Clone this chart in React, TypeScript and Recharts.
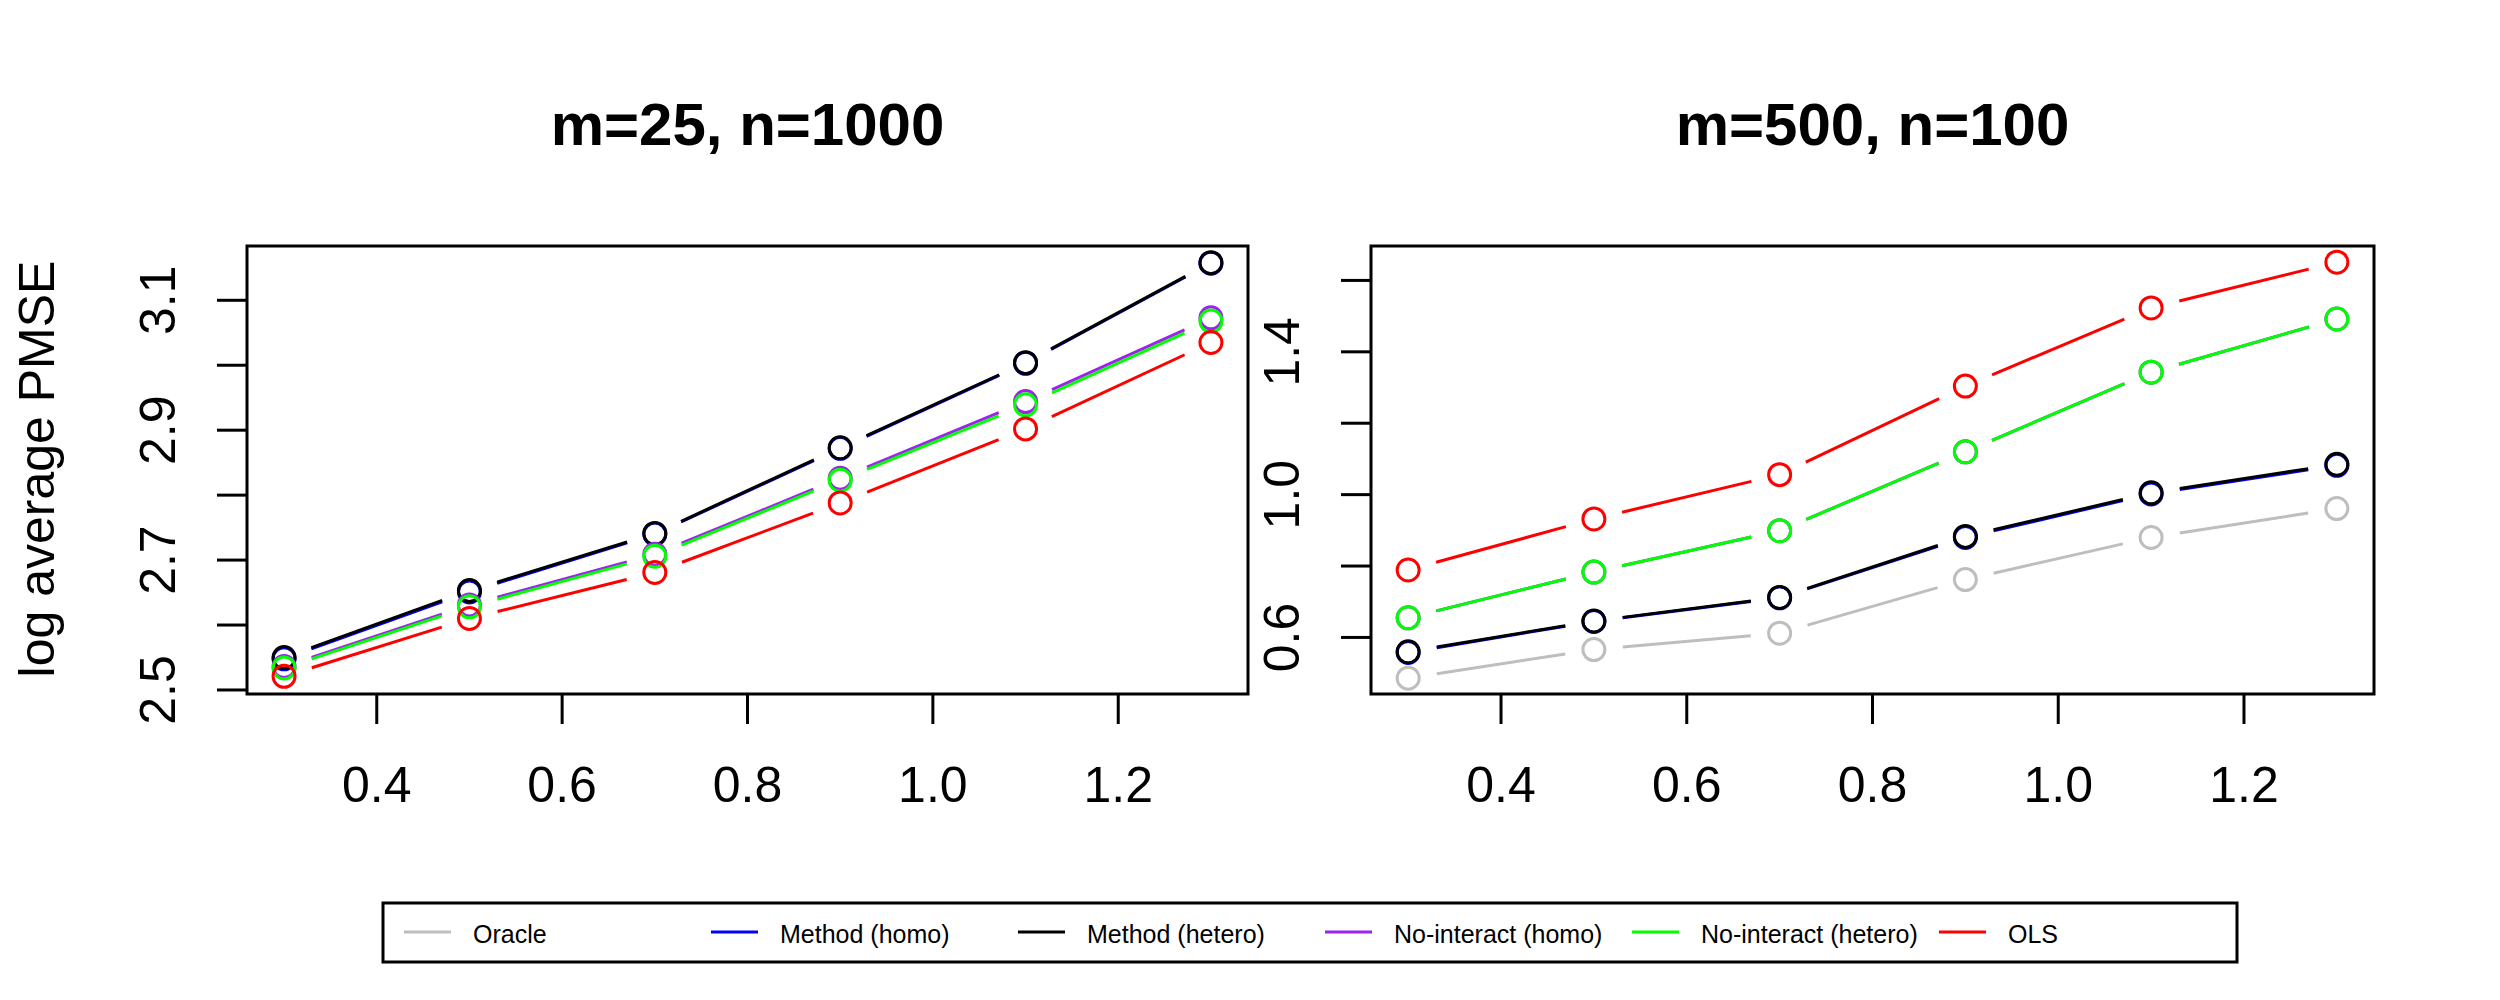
import React from 'react';
import { LineChart, Line, XAxis, YAxis, ReferenceArea } from 'recharts';

const FONT = '"Liberation Sans", Arial, Helvetica, sans-serif';

// ---------- data ----------
const xValues = [0.3, 0.5, 0.7, 0.9, 1.1, 1.3];
const xTicks = [0.4, 0.6, 0.8, 1.0, 1.2];
const xDomain = [0.26, 1.34];

// Left panel: m=25, n=1000
const leftTitle = 'm=25, n=1000';
const leftMethodHomo = [2.548, 2.651, 2.740, 2.872, 3.003, 3.157];
const leftMethodHetero = [2.550, 2.653, 2.741, 2.873, 3.004, 3.158];
const leftNoInteractHomo = [2.536, 2.631, 2.709, 2.826, 2.944, 3.073];
const leftNoInteractHetero = [2.534, 2.628, 2.706, 2.823, 2.939, 3.068];
const leftOLS = [2.521, 2.610, 2.681, 2.788, 2.902, 3.035];
const leftYTicks = [2.5, 2.6, 2.7, 2.8, 2.9, 3.0, 3.1];
const leftYLabels = [2.5, 2.7, 2.9, 3.1];
const leftYDomain = [2.4938, 3.1836];

// Right panel: m=500, n=100
const rightTitle = 'm=500, n=100';
const rightOracle = [0.486, 0.566, 0.612, 0.762, 0.880, 0.961];
const rightMethodHomo = [0.558, 0.645, 0.711, 0.880, 1.002, 1.082];
const rightMethodHetero = [0.560, 0.646, 0.712, 0.883, 1.005, 1.085];
const rightNoInteractHomo = [0.655, 0.783, 0.899, 1.120, 1.343, 1.492];
const rightNoInteractHetero = [0.655, 0.783, 0.899, 1.120, 1.343, 1.492];
const rightOLS = [0.789, 0.932, 1.056, 1.304, 1.523, 1.651];
const rightYTicks = [0.6, 0.8, 1.0, 1.2, 1.4, 1.6];
const rightYLabels = [0.6, 1.0, 1.4];
const rightYDomain = [0.4416, 1.6964];

const yAxisLabel = 'log average PMSE';

const seriesNames = ['Oracle', 'Method (homo)', 'Method (hetero)', 'No-interact (homo)', 'No-interact (hetero)', 'OLS'];
const seriesKeys = ['oracle', 'mhomo', 'mhetero', 'nihomo', 'nihetero', 'ols'];
const seriesColors = ['#BEBEBE', '#0000FF', '#000000', '#A020F0', '#00FF00', '#FF0000'];

function buildRows(cols: (number[] | null)[]) {
  return xValues.map((x, i) => {
    const row: any = { x };
    cols.forEach((c, k) => {
      if (c) row[seriesKeys[k]] = c[i];
    });
    return row;
  });
}

const leftRows = buildRows([null, leftMethodHomo, leftMethodHetero, leftNoInteractHomo, leftNoInteractHetero, leftOLS]);
const rightRows = buildRows([rightOracle, rightMethodHomo, rightMethodHetero, rightNoInteractHomo, rightNoInteractHetero, rightOLS]);

// ---------- style ----------
const R = 11;
const GAP = 29;
const LW = 3;

function makeDot(color: string) {
  let prev: { x: number; y: number } | null = null;
  return (props: any) => {
    const { cx, cy, index } = props;
    const k = `d-${index}`;
    if (index === 0) prev = null;
    if (cx == null || cy == null || Number.isNaN(cx) || Number.isNaN(cy)) {
      prev = null;
      return <g key={k} />;
    }
    let seg = null;
    if (prev) {
      const dx = cx - prev.x;
      const dy = cy - prev.y;
      const d = Math.hypot(dx, dy);
      if (d > 2 * GAP) {
        const ux = dx / d;
        const uy = dy / d;
        seg = (
          <line
            x1={prev.x + ux * GAP}
            y1={prev.y + uy * GAP}
            x2={cx - ux * GAP}
            y2={cy - uy * GAP}
            stroke={color}
            strokeWidth={LW}
          />
        );
      }
    }
    prev = { x: cx, y: cy };
    return (
      <g key={k}>
        {seg}
        <circle cx={cx} cy={cy} r={R} fill="none" stroke={color} strokeWidth={LW} />
      </g>
    );
  };
}

const XTick = (props: any) => {
  const { x, y, payload } = props;
  return (
    <text x={x} y={y + 78} textAnchor="middle" fontSize={50} fontFamily={FONT} fill="#000">
      {Number(payload.value).toFixed(1)}
    </text>
  );
};

const makeYTick = (labels: number[]) => (props: any) => {
  const { x, y, payload } = props;
  const v = Number(payload.value);
  const show = labels.some((l) => Math.abs(l - v) < 1e-9);
  if (!show) return <g />;
  const X = x - 42;
  return (
    <text
      x={X}
      y={y}
      textAnchor="middle"
      fontSize={50}
      fontFamily={FONT}
      fill="#000"
      transform={`rotate(-90 ${X} ${y})`}
    >
      {v.toFixed(1)}
    </text>
  );
};

function Panel(props: {
  rows: any[];
  keys: number[];
  yDomain: number[];
  yTicks: number[];
  yLabels: number[];
  width: number;
  margin: any;
}) {
  const { rows, keys, yDomain, yTicks, yLabels, width, margin } = props;
  return (
    <LineChart width={width} height={1000} data={rows} margin={margin}>
      <XAxis
        dataKey="x"
        type="number"
        domain={xDomain}
        ticks={xTicks}
        axisLine={false}
        tickLine={{ stroke: '#000', strokeWidth: 3 }}
        tickSize={30}
        tickMargin={0}
        height={100}
        tick={<XTick />}
        interval={0}
      />
      <YAxis
        type="number"
        domain={yDomain}
        ticks={yTicks}
        axisLine={false}
        tickLine={{ stroke: '#000', strokeWidth: 3 }}
        tickSize={30}
        tickMargin={0}
        width={100}
        tick={makeYTick(yLabels)}
        interval={0}
      />
      {keys.map((k) => (
        <Line
          key={seriesKeys[k]}
          dataKey={seriesKeys[k]}
          stroke="none"
          strokeWidth={0}
          dot={makeDot(seriesColors[k])}
          activeDot={false}
          isAnimationActive={false}
          connectNulls={false}
        />
      ))}
      <ReferenceArea
        x1={xDomain[0]}
        x2={xDomain[1]}
        y1={yDomain[0]}
        y2={yDomain[1]}
        fill="none"
        fillOpacity={0}
        stroke="#000"
        strokeWidth={3}
        ifOverflow="visible"
      />
    </LineChart>
  );
}

function Legend() {
  const left = 383;
  const top = 23;
  const w = 1854;
  const h = 59;
  const start = 404;
  const step = 307;
  return (
    <svg width={2500} height={120} style={{ position: 'absolute', left: 0, top: 880 }}>
      <rect x={left} y={top} width={w} height={h} fill="#fff" stroke="#000" strokeWidth={3} />
      {seriesNames.map((name, i) => {
        const x0 = start + i * step;
        return (
          <g key={name}>
            <line x1={x0} y1={52} x2={x0 + 47} y2={52} stroke={seriesColors[i]} strokeWidth={3} />
            <text x={x0 + 69} y={62.7} fontSize={25} fontFamily={FONT} fill="#000">
              {name}
            </text>
          </g>
        );
      })}
    </svg>
  );
}

const titleStyle = (cx: number): React.CSSProperties => ({
  position: 'absolute',
  left: cx - 500,
  top: 95,
  width: 1000,
  textAlign: 'center',
  fontFamily: FONT,
  fontWeight: 'bold',
  fontSize: 60,
  lineHeight: '60px',
  color: '#000',
  whiteSpace: 'nowrap',
});

export default function App() {
  return (
    <div style={{ position: 'absolute', left: 0, top: 0, width: 2500, height: 1000, background: '#fff', overflow: 'hidden' }}>
      <div style={{ position: 'absolute', left: 0, top: 0 }}>
        <Panel
          rows={leftRows}
          keys={[1, 2, 3, 4, 5]}
          yDomain={leftYDomain}
          yTicks={leftYTicks}
          yLabels={leftYLabels}
          width={1250}
          margin={{ top: 246, bottom: 206, left: 147, right: 2 }}
        />
      </div>
      <div style={{ position: 'absolute', left: 1250, top: 0 }}>
        <Panel
          rows={rightRows}
          keys={[0, 1, 2, 3, 4, 5]}
          yDomain={rightYDomain}
          yTicks={rightYTicks}
          yLabels={rightYLabels}
          width={1250}
          margin={{ top: 246, bottom: 206, left: 21, right: 126 }}
        />
      </div>
      <div style={titleStyle(747.5)}>{leftTitle}</div>
      <div style={titleStyle(1872.5)}>{rightTitle}</div>
      <div
        style={{
          position: 'absolute',
          left: 36.5 - 300,
          top: 469 - 30,
          width: 600,
          height: 60,
          lineHeight: '60px',
          textAlign: 'center',
          fontFamily: FONT,
          fontSize: 50,
          color: '#000',
          transform: 'rotate(-90deg)',
          whiteSpace: 'nowrap',
        }}
      >
        {yAxisLabel}
      </div>
      <Legend />
    </div>
  );
}
